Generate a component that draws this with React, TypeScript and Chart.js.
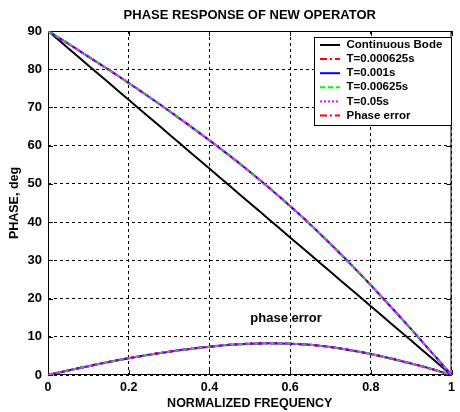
import { useEffect, useRef } from 'react';
import { Chart, registerables } from 'chart.js';

Chart.register(...registerables);

const FONT = 'Arial, "Liberation Sans", Helvetica, sans-serif';

// Normalized frequency grid shared by every curve
const freq = [0, 0.05, 0.1, 0.15, 0.2, 0.25, 0.3, 0.35, 0.4, 0.45, 0.5, 0.55, 0.6, 0.65, 0.7, 0.75, 0.8, 0.85, 0.9, 0.95, 1];

// Ideal continuous-time phase (deg)
const continuousBode = [90, 85.5, 81, 76.5, 72, 67.5, 63, 58.5, 54, 49.5, 45, 40.5, 36, 31.5, 27, 22.5, 18, 13.5, 9, 4.5, 0];

// Phase of the new operator (deg), identical for all sampling periods
const newOperatorPhase = [90, 86.7, 83.3, 79.9, 76.4, 72.8, 69.1, 65.3, 61.4, 57.4, 53.2, 48.8, 44.2, 39.4, 34.3, 29.0, 23.5, 17.8, 12.0, 6.0, 0];

// Phase error between the new operator and the continuous response (deg)
const phaseError = [0, 1.2, 2.3, 3.4, 4.4, 5.3, 6.1, 6.8, 7.4, 7.9, 8.2, 8.3, 8.2, 7.9, 7.3, 6.5, 5.5, 4.3, 3.0, 1.6, 0];

const sampleTimes = ['T=0.000625s', 'T=0.001s', 'T=0.00625s', 'T=0.05s'];

const xTicks = [0, 0.2, 0.4, 0.6, 0.8, 1];
const yTicks = [0, 10, 20, 30, 40, 50, 60, 70, 80, 90];

const title = 'PHASE RESPONSE OF NEW OPERATOR';
const xTitle = 'NORMALIZED FREQUENCY';
const yTitle = 'PHASE, deg';
const errorNote = 'phase error';

type Style = { color: string; dash: number[]; z: number };

const bodeStyle: Style = { color: '#000000', dash: [], z: 0 };
const tStyles: Style[] = [
  { color: '#ff0000', dash: [7, 3, 2, 3], z: 1 },
  { color: '#0000ff', dash: [], z: 3 },
  { color: '#00ff00', dash: [5, 3], z: 4 },
  { color: '#ff00ff', dash: [2, 2], z: 5 },
];
const errorStyle: Style = { color: '#ff0000', dash: [7, 3, 2, 3], z: 2 };

const toPoints = (ys: number[]) => freq.map((x, i) => ({ x, y: ys[i] }));

function lineDataset(label: string, ys: number[], s: Style) {
  return {
    label,
    data: toPoints(ys),
    borderColor: s.color,
    borderWidth: 2,
    borderDash: s.dash,
    pointRadius: 0,
    fill: false,
    tension: 0.2,
    order: 10 - s.z,
  };
}

const legendItems: { label: string; style: Style }[] = [
  { label: 'Continuous Bode', style: bodeStyle },
  ...sampleTimes.map((t, i) => ({ label: t, style: tStyles[i] })),
  { label: 'Phase error', style: errorStyle },
];

const decorations = {
  id: 'decorations',
  beforeDatasetsDraw(chart: any) {
    const { ctx, chartArea: a } = chart;
    const xs = chart.scales.x;
    const ys = chart.scales.y;
    ctx.save();
    ctx.strokeStyle = '#000';
    ctx.lineWidth = 1;
    ctx.setLineDash([]);
    ctx.beginPath();
    xs.ticks.forEach((t: any) => {
      const px = Math.round(xs.getPixelForValue(t.value)) + 0.5;
      ctx.moveTo(px, a.bottom);
      ctx.lineTo(px, a.bottom - 5);
      ctx.moveTo(px, a.top);
      ctx.lineTo(px, a.top + 5);
    });
    ys.ticks.forEach((t: any) => {
      const py = Math.round(ys.getPixelForValue(t.value)) + 0.5;
      ctx.moveTo(a.left, py);
      ctx.lineTo(a.left + 5, py);
      ctx.moveTo(a.right, py);
      ctx.lineTo(a.right - 5, py);
    });
    ctx.stroke();
    ctx.strokeRect(a.left + 0.5, a.top + 0.5, a.right - a.left - 1, a.bottom - a.top - 1);
    ctx.restore();
  },
  afterDraw(chart: any) {
    const { ctx, chartArea: a } = chart;
    const xs = chart.scales.x;
    const ys = chart.scales.y;
    const cx = (a.left + a.right) / 2;
    ctx.save();
    ctx.fillStyle = '#000';
    ctx.textAlign = 'center';
    ctx.textBaseline = 'middle';

    ctx.font = `bold 13px ${FONT}`;
    ctx.fillText(title, cx, 15);

    ctx.font = `bold 12.5px ${FONT}`;
    ctx.fillText(xTitle, cx, 404);

    ctx.save();
    ctx.translate(15, (a.top + a.bottom) / 2);
    ctx.rotate(-Math.PI / 2);
    ctx.font = `bold 12.5px ${FONT}`;
    ctx.fillText(yTitle, 0, 0);
    ctx.restore();

    // annotation above the error curve
    ctx.font = `bold 13px ${FONT}`;
    ctx.fillText(errorNote, xs.getPixelForValue(0.59), ys.getPixelForValue(14.8));

    // legend box
    const bx = 314.5, by = 37.5, bw = 137, bh = 88;
    ctx.fillStyle = '#fff';
    ctx.fillRect(bx, by, bw, bh);
    ctx.strokeStyle = '#000';
    ctx.lineWidth = 1;
    ctx.strokeRect(bx, by, bw, bh);
    ctx.font = `bold 11.5px ${FONT}`;
    ctx.textAlign = 'left';
    legendItems.forEach((item, i) => {
      const y = 45 + i * 14.1;
      ctx.strokeStyle = item.style.color;
      ctx.lineWidth = 2;
      ctx.setLineDash(item.style.dash);
      ctx.beginPath();
      ctx.moveTo(320, y);
      ctx.lineTo(340, y);
      ctx.stroke();
      ctx.setLineDash([]);
      ctx.fillStyle = '#000';
      ctx.fillText(item.label, 346.5, y);
    });
    ctx.restore();
  },
};

export default function App() {
  const canvasRef = useRef<HTMLCanvasElement>(null);

  useEffect(() => {
    const canvas = canvasRef.current;
    if (!canvas) return;

    const datasets: any[] = [lineDataset('Continuous Bode', continuousBode, bodeStyle)];
    sampleTimes.forEach((t, i) => {
      datasets.push(lineDataset(t, newOperatorPhase, tStyles[i]));
      datasets.push(lineDataset(t + ' error', phaseError, tStyles[i]));
    });
    datasets.push(lineDataset('Phase error', phaseError, errorStyle));

    const xTickFont = { family: FONT, size: 12.5, weight: 'bold' as const };
    const yTickFont = { family: FONT, size: 13, weight: 'bold' as const };

    const chart = new Chart(canvas, {
      type: 'line',
      data: { datasets },
      options: {
        responsive: false,
        animation: false,
        events: [],
        layout: { padding: { top: 31, right: 2, left: 0, bottom: 0 } },
        plugins: {
          legend: { display: false },
          tooltip: { enabled: false },
          title: { display: false },
        },
        scales: {
          x: {
            type: 'linear',
            min: 0,
            max: 1,
            afterBuildTicks: (s: any) => {
              s.ticks = xTicks.map((v) => ({ value: v }));
            },
            afterFit: (s: any) => {
              s.height = 37;
            },
            ticks: {
              color: '#000',
              font: xTickFont,
              padding: 5,
              maxRotation: 0,
              autoSkip: false,
              callback: (v: any) => String(Number(Number(v).toFixed(1))),
            },
            grid: { color: '#000', lineWidth: 1, drawTicks: false },
            border: { display: false, dash: [3, 3] },
          },
          y: {
            type: 'linear',
            min: 0,
            max: 90,
            afterBuildTicks: (s: any) => {
              s.ticks = yTicks.map((v) => ({ value: v }));
            },
            afterFit: (s: any) => {
              s.width = 48;
            },
            ticks: {
              color: '#000',
              font: yTickFont,
              padding: 6,
              autoSkip: false,
            },
            grid: { color: '#000', lineWidth: 1, drawTicks: false },
            border: { display: false, dash: [3, 3] },
          },
        },
      },
      plugins: [decorations],
    });

    return () => chart.destroy();
  }, []);

  return (
    <div style={{ position: 'absolute', left: 0, top: 0, width: 460, height: 412, background: '#fff' }}>
      <canvas ref={canvasRef} width={460} height={412} style={{ width: 460, height: 412, display: 'block' }} />
    </div>
  );
}
